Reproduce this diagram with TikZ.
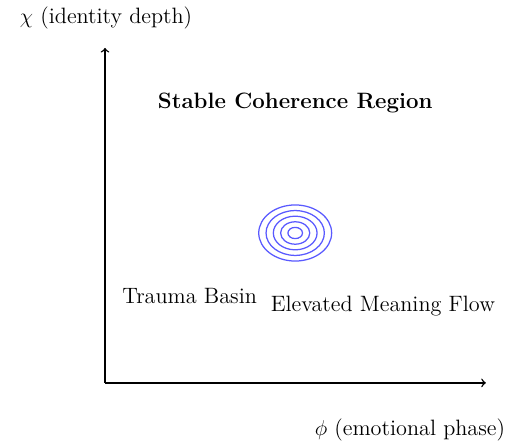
\documentclass[tikz,border=0pt]{standalone}
\usepackage{tikz}
\usetikzlibrary{calc}
\usepackage{amssymb}
\usepackage{amsmath}

\begin{document}
\begin{tikzpicture}[axis/.style={->, thick}, ring/.style={blue!65, line width=0.7pt}, every node/.style={font=\fontsize{12.4}{15}\selectfont}, scale=1]
\useasboundingbox (-2.06,-1.18) rectangle (8.10,7.51);
\coordinate (o) at (0,0);
\coordinate (xend) at (7.47,0);
\coordinate (yend) at (0,6.57);
\draw[axis] (o) -- (xend);
\draw[axis] (o) -- (yend);
\node (ylab) at (0.02,7.16) {$\chi$ (identity depth)};
\node (xlab) at (5.98,-0.92) {$\phi$ (emotional phase)};
\node (stable) at (3.73,5.49) {\textbf{Stable Coherence Region}};
\coordinate (core) at (3.73,2.94);
\foreach \r in {1,...,5}
  \draw[ring] (core) ellipse ({0.143*\r} and {0.11*\r});
\node (trauma) at (1.66,1.71) {Trauma Basin};
\node (flow) at (5.45,1.51) {Elevated Meaning Flow};
\end{tikzpicture}
\end{document}
